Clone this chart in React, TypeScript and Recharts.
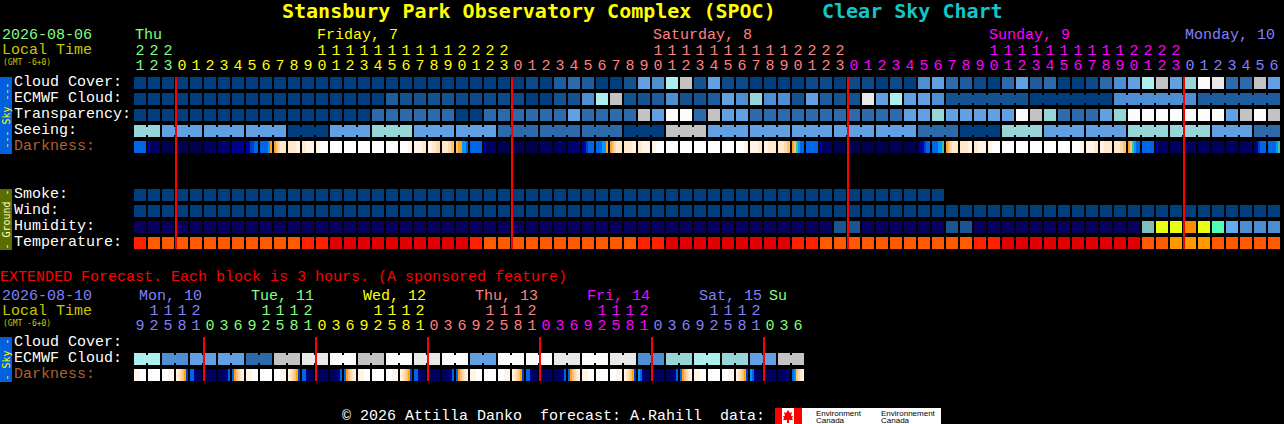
import React from "react";
import { ScatterChart, Scatter, XAxis, YAxis } from "recharts";

const MONO = "'DejaVu Sans Mono', monospace";
const THIN = "'Liberation Mono', monospace";

// ---------- colour scales ----------
const skyScale = ["#003e7e", "#0c4a8a", "#13538f", "#1d5c9e", "#2c6aac", "#4e8ed2", "#62a0e4", "#97d6d6", "#adefef", "#c3c3c3", "#e8e8e8", "#fcfcfc"];
const humidityScale = ["#08005e", "#1a5590", "#80bebe", "#e8ff14", "#ff8c00", "#50ffb0", "#64aaee", "#4d8ccf"];
const temperatureScale = ["#e00000", "#ff2000", "#ff5a00", "#ff9900"];
const darknessScale = ["#000050", "#000060", "#000070", "#000090", "#0000a8", "#0040c0", "#0066e6", "#0099ff", "#40c0a0", "#ffa020", "#ffc070", "#ffd8a8", "#ffe8cc", "#fff4e6", "#ffffff"];

// ---------- hourly forecast ----------
const hours = [21, 22, 23,
  0, 1, 2, 3, 4, 5, 6, 7, 8, 9, 10, 11, 12, 13, 14, 15, 16, 17, 18, 19, 20, 21, 22, 23,
  0, 1, 2, 3, 4, 5, 6, 7, 8, 9, 10, 11, 12, 13, 14, 15, 16, 17, 18, 19, 20, 21, 22, 23,
  0, 1, 2, 3, 4, 5, 6, 7, 8, 9, 10, 11, 12, 13, 14, 15, 16, 17, 18, 19, 20, 21, 22, 23,
  0, 1, 2, 3, 4, 5, 6];
const hourColors = [
  { until: 3, color: "#80ff80" }, { until: 27, color: "#ffff00" }, { until: 51, color: "#ff8080" },
  { until: 75, color: "#ff00ff" }, { until: 82, color: "#8080ff" },
];
const dayLabels = [
  { col: 0, text: "Thu" }, { col: 13, text: "Friday, 7" }, { col: 37, text: "Saturday, 8" },
  { col: 61, text: "Sunday, 9" }, { col: 75, text: "Monday, 10" },
];
const midnightCols = [3, 27, 51, 75];

const cloudCover = [0, 0, 0, 0, 0, 0, 0, 0, 0, 0, 0, 0, 0, 0, 0, 0, 0, 0, 0, 0, 0, 0, 0, 0, 0, 0, 0,
  0, 1, 0, 3, 4, 3, 0, 0, 2, 6, 5, 8, 9, 2, 6, 1, 1, 0, 0, 0, 0, 1, 1, 0, 1, 1, 0, 1,
  0, 5, 6, 4, 3, 1, 0, 4, 6, 3, 4, 0, 0, 1, 4, 5, 6, 8, 9, 6, 7, 11, 10, 4, 4, 9, 6];
const ecmwfCloud = [0, 0, 0, 0, 0, 0, 0, 0, 0, 0, 0, 0, 0, 0, 0, 0, 0, 0,
  3, 2, 2, 2, 2, 1, 1, 1, 1, 1, 0, 0, 2, 2, 5, 8, 9, 2, 2, 3, 5, 2, 2, 3, 6, 5, 7, 5, 5, 2, 6, 3, 2, 2, 10, 6, 8, 6, 6, 5,
  2, 2, 2, 2, 2, 2, 0, 0, 0, 0, 0, 0, 5, 5, 5, 5, 5, 5, 3, 3, 3, 3, 3, 3];
const ecmwfBlocks = [1, 1, 1, 1, 1, 1, 1, 1, 1, 1, 1, 1, 1, 1, 1, 1, 1, 1, 1, 1, 1, 1, 1, 1, 1, 1, 1, 1, 1, 1,
  1, 1, 1, 1, 1, 1, 1, 1, 1, 1, 1, 1, 1, 1, 1, 1, 1, 1, 1, 1, 1, 1, 1, 1, 1, 1, 1, 1, 6, 6, 6, 6];
const transparency = [0, 0, 0, 0, 0, 0, 0, 0, 0, 0, 0, 0, 0, 0, 0, 0, 0,
  4, 4, 4, 4, 4, 4, 0, 0, 4, 4, 4, 4, 4, 4, 6, 4, 4, 4, 4, 9, 6, 11, 11, 4, 9, 6, 6,
  4, 4, 4, 4, 4, 4, 4, 4, 4, 4, 4, 6, 6, 7, 6, 6, 6, 6, 6, 11, 9, 7, 4, 4, 4, 6, 7,
  11, 11, 11, 11, 11, 11, 11, 6, 9, 11, 9];
const seeingBlocks = [2, 3, 3, 3, 3, 3, 3, 3, 3, 3, 3, 3, 3, 3, 3, 3, 3, 3, 3, 3, 3, 3, 3, 3, 3, 3, 3, 2];
const seeing = [7, 6, 6, 6, 0, 6, 7, 6, 6, 4, 4, 4, 0, 9, 6, 6, 6, 6, 6, 4, 0, 7, 6, 6, 7, 7, 6, 4];
const darkness = [
  [6], [4, 1, 1, 1, 1, 1], [0], [0], [0], [1], [2], [3], [4, 4, 5, 5, 6, 6], [6, 6, 6, 6, 7, 9],
  [9, 10, 11, 12, 12, 12], [12, 12, 13], [12, 13, 13], [13, 14, 14], [14], [14], [14], [14], [14], [14, 14, 13],
  [13, 13, 12], [13, 12, 11], [12, 12, 11, 10], [10, 9, 9, 7, 7, 6], [6], [4, 1, 1, 1, 1, 1], [0], [0], [0], [1],
  [1], [2], [3, 4, 5, 6, 6, 6], [6, 6, 6, 7, 7, 9], [9, 10, 11, 12, 12, 12], [12, 12, 13], [12, 13, 13], [13, 14, 14], [14], [14],
  [14], [14], [14], [14, 14, 13], [13, 13, 12], [13, 12, 12], [12, 12, 11, 10], [9, 10, 8, 7, 6, 6], [6], [4, 1, 1, 1, 1, 1],
  [0], [0], [0], [0], [0], [0], [2, 3, 4, 5, 6, 6], [6, 6, 6, 7, 7, 8], [9, 10, 11, 12, 12, 12], [12, 12, 13],
  [12, 13, 13], [13, 14, 14], [14], [14], [14], [14], [14], [14, 14, 13], [13, 13, 12], [13, 12, 12],
  [12, 12, 11, 10], [9, 10, 8, 7, 6, 6], [6], [4, 1, 1, 1, 1, 1], [1], [1], [1], [1], [1], [1],
  [2, 3, 5, 6, 6, 6], [6, 6, 6, 6, 7, 8],
];
const smoke = [0, 0, 0, 0, 0, 0, 0, 0, 0, 0, 0, 0, 0, 0, 0, 0, 0, 0, 0, 0, 0, 0, 0, 0, 0, 0, 0, 0, 0,
  0, 0, 0, 0, 0, 0, 0, 0, 0, 0, 0, 0, 0, 0, 0, 0, 0, 0, 0, 0, 0, 0, 0, 0, 0, 0, 0, 0, 0];
const wind = [0, 0, 0, 0, 0, 0, 0, 0, 0, 0, 0, 0, 0, 0, 0, 0, 0, 0, 0, 0, 0, 0, 0, 0, 0, 0, 0, 0, 0, 0, 0, 0, 0, 0, 0, 0, 0, 0, 0, 0, 0,
  0, 0, 0, 0, 0, 0, 0, 0, 0, 0, 0, 0, 0, 0, 0, 0, 0, 0, 0, 0, 0, 0, 0, 0, 0, 0, 0, 0, 0, 0, 0, 0, 0, 0, 0, 0, 0, 0, 0, 0, 0];
const humidity = [0, 0, 0, 0, 0, 0, 0, 0, 0, 0, 0, 0, 0, 0, 0, 0, 0, 0, 0, 0, 0, 0, 0, 0, 0, 0, 0, 0, 0, 0, 0, 0, 0, 0, 0, 0, 0, 0, 0, 0, 0, 0, 0, 0, 0, 0, 0, 0, 0, 0,
  1, 1, 0, 0, 0, 0, 0, 0, 1, 1, 0, 0, 0, 0, 0, 0, 0, 0, 0, 0, 0, 0, 2, 3, 3, 4, 3, 5, 6, 7, 7, 7];
const temperature = [1, 2, 2, 2, 2, 2, 2, 2, 2, 2, 2, 2, 1, 1, 0, 0, 0, 0, 0, 0, 0, 0, 0, 0,
  1, 2, 2, 2, 2, 2, 2, 2, 2, 2, 2, 2, 1, 1, 0, 0, 0, 0, 0, 0, 0, 0, 0, 1,
  1, 2, 2, 2, 2, 2, 2, 2, 2, 2, 2, 2, 1, 1, 0, 0, 0, 0, 0, 0, 0, 0, 0, 0, 2, 2, 3, 3, 3, 2, 2, 2, 2, 2];

const skyRowLabels = ["Cloud Cover:", "ECMWF Cloud:", "Transparency:", "Seeing:", "Darkness:"];
const groundRowLabels = ["Smoke:", "Wind:", "Humidity:", "Temperature:"];
const mainRowTicks = [0, 1, 2, 3, 4, 7, 8, 9, 10];

// ---------- extended forecast ----------
const extHours = [9, 12, 15, 18, 21,
  0, 3, 6, 9, 12, 15, 18, 21, 0, 3, 6, 9, 12, 15, 18, 21, 0, 3, 6, 9, 12, 15, 18, 21,
  0, 3, 6, 9, 12, 15, 18, 21, 0, 3, 6, 9, 12, 15, 18, 21, 0, 3, 6];
const extHourColors = [
  { until: 5, color: "#8080ff" }, { until: 13, color: "#80ff80" }, { until: 21, color: "#ffff00" },
  { until: 29, color: "#ff8080" }, { until: 37, color: "#ff00ff" }, { until: 45, color: "#8080ff" }, { until: 48, color: "#80ff80" },
];
const extDayLabels = [
  { col: 0, text: "Mon, 10" }, { col: 8, text: "Tue, 11" }, { col: 16, text: "Wed, 12" }, { col: 24, text: "Thu, 13" },
  { col: 32, text: "Fri, 14" }, { col: 40, text: "Sat, 15" }, { col: 45, text: "Su" },
];
const extMidnightCols = [5, 13, 21, 29, 37, 45];
const extEcmwf = [8, 5, 6, 6, 4, 9, 10, 11, 9, 11, 10, 11, 6, 11, 11, 10, 11, 10, 5, 7, 8, 7, 6, 9];
const extBlocks = [2, 2, 2, 2, 2, 2, 2, 2, 2, 2, 2, 2, 2, 2, 2, 2, 2, 2, 2, 2, 2, 2, 2, 2];
const extDarkness = [
  [13, 14], [14], [14, 13], [13, 12, 11, 10, 9, 5], [6, 6, 3, 1, 1, 1], [1], [1, 1, 1, 1, 3, 6], [6, 9, 10, 11, 12, 13],
  [13, 14], [14], [14, 13], [13, 12, 11, 10, 9, 5], [6, 6, 3, 1, 1, 1], [1], [1, 1, 1, 1, 3, 6], [6, 9, 10, 11, 12, 13],
  [13, 14], [14], [14, 13], [13, 12, 11, 10, 9, 5], [6, 6, 3, 1, 1, 1], [1], [1, 1, 1, 1, 3, 6], [6, 9, 10, 11, 12, 13],
  [13, 14], [14], [14, 13], [13, 12, 11, 10, 9, 5], [6, 6, 3, 1, 1, 1], [1], [1, 1, 1, 1, 3, 6], [6, 9, 10, 11, 12, 13],
  [13, 14], [14], [14, 13], [13, 12, 11, 10, 9, 5], [7, 6, 3, 1, 1, 1], [1], [1, 1, 1, 1, 3, 6], [6, 9, 10, 11, 12, 13],
  [13, 14], [14], [14, 13], [13, 12, 11, 10, 9, 5], [7, 6, 3, 1, 1, 1], [1], [1, 1, 1, 1, 2, 2], [6, 7, 10, 11, 12, 13],
];
const extRowLabels = ["Cloud Cover:", "ECMWF Cloud:", "Darkness:"];

// ---------- helpers that turn the arrays into chart rows ----------
const expand = (lengths: number[], values: number[]) => lengths.flatMap((n, i) => Array(n).fill(values[i]));
const joinFlags = (lengths: number[]) => lengths.flatMap((n) => Array.from({ length: n }, (_, i) => i < n - 1));

const row = (y: number, values: any[], joined?: boolean[]) =>
  values.map((v, i) => ({ x: i + 0.5, y, v, join: joined ? joined[i] : false }));

const colorAt = (stops: { until: number; color: string }[], col: number) =>
  (stops.find((s) => col < s.until) || stops[stops.length - 1]).color;

const Cell = (scale: string[]) => (p: any) => {
  const { cx, cy, payload } = p;
  const left = cx - 7;
  const top = cy - 6;
  const v = payload.v;
  if (Array.isArray(v)) {
    const w = 12 / v.length;
    return (
      <g>
        {v.map((lv: number, i: number) => (
          <rect key={i} x={left + i * w} y={top} width={w + (i < v.length - 1 ? 0.3 : 0)} height={12} fill={scale[lv]} />
        ))}
      </g>
    );
  }
  return (
    <g>
      <rect x={left} y={top} width={12} height={12} fill={scale[v]} />
      {payload.join ? <rect x={left + 12} y={top + 2} width={2} height={8} fill={scale[v]} /> : null}
    </g>
  );
};

const Midnight = (span: number) => (p: any) => (
  <rect x={p.cx - 1} y={p.cy - span / 2} width={2} height={span} fill={RED} />
);

const baseText = { fontFamily: THIN, fontSize: 15, style: { whiteSpace: "pre" as const } };

const HourTick = (hrs: number[], stops: any[], days: any[], yTop: number) => (p: any) => {
  const col = Math.round(p.payload.value - 0.5);
  const h = hrs[col];
  const color = colorAt(stops, col);
  const day = days.find((d) => d.col === col);
  return (
    <g>
      {day ? (
        <text x={p.x - 6 + (yTop === 0 ? 0 : 4)} y={yTop + (yTop === 0 ? 39 : 40)} fill={color} {...baseText}>{day.text}</text>
      ) : null}
      {h >= 10 ? (
        <text x={p.x - 1} y={yTop + 55} fill={color} textAnchor="middle" {...baseText}>{Math.floor(h / 10)}</text>
      ) : null}
      <text x={p.x - 1} y={yTop + 70} fill={color} textAnchor="middle" {...baseText}>{h % 10}</text>
    </g>
  );
};

const rowLabelColor = (t: string) => (t === "Darkness:" ? "#b0602e" : "#ffffff");

const RowTick = (labelOf: (v: number) => string) => (p: any) => {
  const t = labelOf(p.payload.value);
  return (
    <text x={14} y={p.y + 3} fill={rowLabelColor(t)} {...baseText}>{t}</text>
  );
};

const mainLabelOf = (v: number) => (v < 5 ? skyRowLabels[v] : groundRowLabels[v - 7]);
const extLabelOf = (v: number) => extRowLabels[v];

const colTicks = (n: number) => Array.from({ length: n }, (_, i) => i + 0.5);

const RED = "#ff0000";
const noLine = { axisLine: false, tickLine: false } as const;

function MainChart() {
  const seeingCells = expand(seeingBlocks, seeing);
  return (
    <ScatterChart width={1284} height={251} margin={{ top: 0, left: 0, right: 2, bottom: 0 }} style={{ position: "absolute", left: 0, top: 0 }}>
      <XAxis type="number" dataKey="x" orientation="top" height={75} domain={[0, 82]} ticks={colTicks(82)} interval={0} {...noLine}
        tick={HourTick(hours, hourColors, dayLabels, 0)} />
      <YAxis type="number" dataKey="y" width={134} reversed domain={[-0.5, 10.5]} ticks={mainRowTicks} interval={0} {...noLine}
        tick={RowTick(mainLabelOf)} />
      <Scatter name="Cloud Cover" data={row(0, cloudCover)} shape={Cell(skyScale)} isAnimationActive={false} />
      <Scatter name="ECMWF Cloud" data={row(1, ecmwfCloud, joinFlags(ecmwfBlocks))} shape={Cell(skyScale)} isAnimationActive={false} />
      <Scatter name="Transparency" data={row(2, transparency)} shape={Cell(skyScale)} isAnimationActive={false} />
      <Scatter name="Seeing" data={row(3, seeingCells, joinFlags(seeingBlocks))} shape={Cell(skyScale)} isAnimationActive={false} />
      <Scatter name="Darkness" data={row(4, darkness)} shape={Cell(darknessScale)} isAnimationActive={false} />
      <Scatter name="Smoke" data={row(7, smoke)} shape={Cell(skyScale)} isAnimationActive={false} />
      <Scatter name="Wind" data={row(8, wind)} shape={Cell(skyScale)} isAnimationActive={false} />
      <Scatter name="Humidity" data={row(9, humidity)} shape={Cell(humidityScale)} isAnimationActive={false} />
      <Scatter name="Temperature" data={row(10, temperature)} shape={Cell(temperatureScale)} isAnimationActive={false} />
      <Scatter name="Midnight" data={midnightCols.map((x) => ({ x, y: 5 }))} shape={Midnight(172)} isAnimationActive={false} />
    </ScatterChart>
  );
}

function ExtendedChart() {
  const extCells = expand(extBlocks, extEcmwf);
  return (
    <ScatterChart width={806} height={98} margin={{ top: 0, left: 0, right: 0, bottom: 0 }} style={{ position: "absolute", left: 0, top: 285 }}>
      <XAxis type="number" dataKey="x" orientation="top" height={50} domain={[0, 48]} ticks={colTicks(48)} interval={0} {...noLine}
        tick={HourTick(extHours, extHourColors, extDayLabels, -25)} />
      <YAxis type="number" dataKey="y" width={134} reversed domain={[-0.5, 2.5]} ticks={[0, 1, 2]} interval={0} {...noLine}
        tick={RowTick(extLabelOf)} />
      <Scatter name="ECMWF Cloud" data={row(1, extCells, joinFlags(extBlocks))} shape={Cell(skyScale)} isAnimationActive={false} />
      <Scatter name="Darkness" data={row(2, extDarkness)} shape={Cell(darknessScale)} isAnimationActive={false} />
      <Scatter name="Midnight" data={extMidnightCols.map((x) => ({ x, y: 1 }))} shape={Midnight(44)} isAnimationActive={false} />
    </ScatterChart>
  );
}

const SideBar = ({ top, height, fill, color, text }: any) => {
  const cy = top + height / 2;
  return (
    <g>
      <rect x={0} y={top} width={12} height={height} fill={fill} />
      <text x={6} y={cy} transform={`rotate(-90 6 ${cy})`} dy={3.5} textAnchor="middle" fill={color} fontFamily={MONO} fontSize={10}>{text}</text>
    </g>
  );
};

function Decor() {
  return (
    <svg width={1284} height={424} style={{ position: "absolute", left: 0, top: 0 }}>
      <text x={282} y={18} fill="#ffff00" fontFamily={MONO} fontSize={20} fontWeight="bold">Stansbury Park Observatory Complex (SPOC)</text>
      <text x={822} y={18} fill="#10c8c8" fontFamily={MONO} fontSize={20} fontWeight="bold">Clear Sky Chart</text>

      <text x={2} y={39} fill="#80ff80" {...baseText}>2026-08-06</text>
      <text x={2} y={54} fill="#c8c800" {...baseText}>Local Time</text>
      <text x={3} y={65} fill="#c8c800" fontFamily={MONO} fontSize={8}>(GMT -6+0)</text>
      <SideBar top={77} height={77} fill="#0060e0" color="#ffff00" text="--- Sky ---" />
      <SideBar top={189} height={61} fill="#5a6e00" color="#ffffc8" text="- Ground -" />

      <text x={0} y={281} fill={RED} {...baseText}>EXTENDED Forecast. Each block is 3 hours. (A sponsored feature)</text>
      <text x={2} y={300} fill="#8080ff" {...baseText}>2026-08-10</text>
      <text x={2} y={315} fill="#c8c800" {...baseText}>Local Time</text>
      <text x={3} y={326} fill="#c8c800" fontFamily={MONO} fontSize={8}>(GMT -6+0)</text>
      <SideBar top={337} height={45} fill="#0060e0" color="#ffff00" text="- Sky -" />

      <text x={342} y={420} fill="#ffffff" {...baseText}>© 2026 Attilla Danko  forecast: A.Rahill  data:</text>
      <g>
        <rect x={775} y={408} width={166} height={16} fill="#ffffff" />
        <rect x={775} y={408} width={7} height={16} fill="#ff0000" />
        <rect x={794} y={408} width={8} height={16} fill="#ff0000" />
        <polygon points="788,410 790,413 792,412 791,416 793,416 792,418 793,420 789,420 789,423 787,423 787,420 783,420 784,418 783,416 785,416 784,412 786,413" fill="#ff0000" />
        <text x={816} y={415.5} fill="#000000" fontFamily="'Liberation Sans', sans-serif" fontSize={8}>Environment</text>
        <text x={816} y={422.5} fill="#000000" fontFamily="'Liberation Sans', sans-serif" fontSize={8}>Canada</text>
        <text x={881} y={415.5} fill="#000000" fontFamily="'Liberation Sans', sans-serif" fontSize={8}>Environnement</text>
        <text x={881} y={422.5} fill="#000000" fontFamily="'Liberation Sans', sans-serif" fontSize={8}>Canada</text>
      </g>
    </svg>
  );
}

export default function App() {
  return (
    <div style={{ position: "fixed", left: 0, top: 0, width: 1284, height: 424, background: "#000000", overflow: "hidden" }}>
      <Decor />
      <MainChart />
      <ExtendedChart />
    </div>
  );
}
